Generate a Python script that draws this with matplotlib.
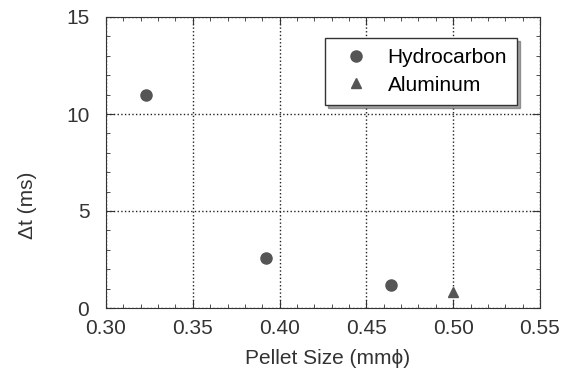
import numpy as np
import matplotlib
matplotlib.use('Agg')
import matplotlib.pyplot as plt
from matplotlib.ticker import MultipleLocator

# data
hc_size = [0.323, 0.392, 0.464]
hc_dt = [11.0, 2.6, 1.2]
al_size = [0.500]
al_dt = [0.85]

plt.rcParams['font.family'] = ['Liberation Sans', 'DejaVu Sans']

fig = plt.figure(figsize=(5.69, 3.73), dpi=100)
ax = fig.add_axes([106 / 569, 1 - 308 / 373, 434 / 569, 291 / 373])

ax.plot(hc_size, hc_dt, 'o', color='#555555', markersize=8, label='Hydrocarbon')
ax.plot(al_size, al_dt, '^', color='#555555', markersize=7, label='Aluminum')

ax.set_xlim(0.30, 0.55)
ax.set_ylim(0, 15)
ax.xaxis.set_major_locator(MultipleLocator(0.05))
ax.xaxis.set_minor_locator(MultipleLocator(0.01))
ax.yaxis.set_major_locator(MultipleLocator(5))
ax.yaxis.set_minor_locator(MultipleLocator(1))
ax.set_xticklabels([f'{v:.2f}' for v in ax.get_xticks()])
ax.tick_params(which='both', direction='in', top=True, right=True, labelsize=15,
               color='#333333', labelcolor='#333333')
ax.tick_params(which='major', length=6)
ax.tick_params(axis='x', which='major', pad=8)
ax.tick_params(axis='y', which='major', pad=12)
ax.tick_params(which='minor', length=3)
ax.grid(True, which='major', linestyle=':', color='#222222', linewidth=1)
for s in ax.spines.values():
    s.set_color('#333333')

ax.set_xlabel('Pellet Size (mm\u03d5)', fontsize=15, color='#333333')
ax.xaxis.set_label_coords(0.51, -0.14)
ax.set_ylabel('\u0394t (ms)', fontsize=15, color='#333333')
ax.yaxis.set_label_coords(-0.16, 0.354)

leg = ax.legend(loc='upper right', fontsize=15, fancybox=False, shadow=True,
                framealpha=1, edgecolor='#333333', handletextpad=0.5,
                borderaxespad=0, bbox_to_anchor=(0.948, 0.928),
                labelspacing=0.4, borderpad=0.5)

fig.savefig('out.png', dpi=100)
